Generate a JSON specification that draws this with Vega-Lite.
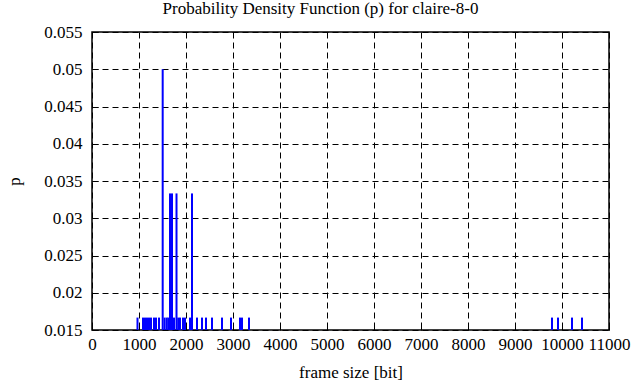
{
  "$schema": "https://vega.github.io/schema/vega-lite/v6.json",
  "width": 517,
  "height": 298,
  "autosize": {"type": "none"},
  "padding": {"left": 92, "top": 32, "right": 27, "bottom": 57},
  "background": "white",
  "title": {"text": "Probability Density Function (p) for claire-8-0", "font": "Liberation Serif", "fontSize": 17, "fontWeight": "normal", "color": "black", "offset": 5, "dx": -30},
  "config": {
    "view": {"stroke": "black", "strokeWidth": 1.5},
    "axis": {"labelFont": "Liberation Serif", "titleFont": "Liberation Serif", "labelFontSize": 17, "titleFontSize": 17, "titleFontWeight": "normal", "labelColor": "black", "titleColor": "black", "gridColor": "black", "gridDash": [6, 4], "gridOpacity": 1, "gridWidth": 1, "domainColor": "black", "tickColor": "black", "tickSize": -6, "domain": false}
  },
  "data": {"values": [
    {"size": 968, "p": 0.016667},
    {"size": 1085, "p": 0.016667},
    {"size": 1128, "p": 0.016667},
    {"size": 1170, "p": 0.016667},
    {"size": 1213, "p": 0.016667},
    {"size": 1255, "p": 0.016667},
    {"size": 1319, "p": 0.016667},
    {"size": 1362, "p": 0.016667},
    {"size": 1426, "p": 0.016667},
    {"size": 1504, "p": 0.05},
    {"size": 1545, "p": 0.016667},
    {"size": 1590, "p": 0.016667},
    {"size": 1625, "p": 0.016667},
    {"size": 1660, "p": 0.033333},
    {"size": 1702, "p": 0.033333},
    {"size": 1745, "p": 0.016667},
    {"size": 1798, "p": 0.033333},
    {"size": 1835, "p": 0.016667},
    {"size": 1872, "p": 0.016667},
    {"size": 1936, "p": 0.016667},
    {"size": 1979, "p": 0.016667},
    {"size": 2085, "p": 0.016667},
    {"size": 2128, "p": 0.033333},
    {"size": 2234, "p": 0.016667},
    {"size": 2340, "p": 0.016667},
    {"size": 2426, "p": 0.016667},
    {"size": 2553, "p": 0.016667},
    {"size": 2766, "p": 0.016667},
    {"size": 2957, "p": 0.016667},
    {"size": 3149, "p": 0.016667},
    {"size": 3191, "p": 0.016667},
    {"size": 3340, "p": 0.016667},
    {"size": 9787, "p": 0.016667},
    {"size": 9915, "p": 0.016667},
    {"size": 10213, "p": 0.016667},
    {"size": 10426, "p": 0.016667}
  ]},
  "mark": {"type": "rule", "color": "#0000ff", "strokeWidth": 2},
  "encoding": {
    "x": {"field": "size", "type": "quantitative", "scale": {"domain": [0, 11000], "nice": false, "zero": false}, "axis": {"title": "frame size [bit]", "values": [0,1000,2000,3000,4000,5000,6000,7000,8000,9000,10000,11000], "format": "d", "labelPadding": 12, "titlePadding": 12, "labelFlush": false}},
    "y": {"field": "p", "type": "quantitative", "scale": {"domain": [0.015, 0.055], "nice": false, "zero": false}, "axis": {"title": "p", "values": [0.015,0.02,0.025,0.03,0.035,0.04,0.045,0.05,0.055], "format": ".3~f", "labelPadding": 16, "titlePadding": 20}},
    "y2": {"datum": 0.015}
  }
}
